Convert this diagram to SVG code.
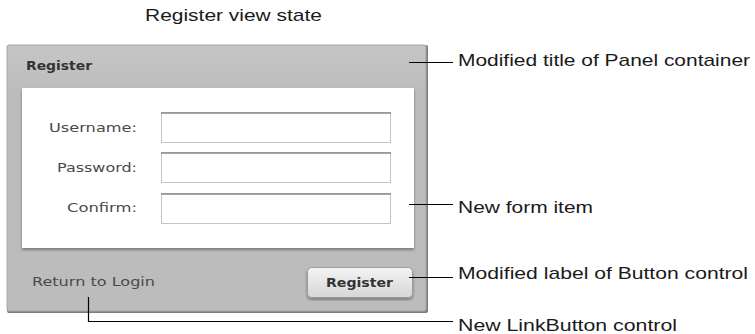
<svg xmlns="http://www.w3.org/2000/svg" width="755" height="334" viewBox="0 0 755 334">
<style>
.ann{font-family:"Liberation Sans",Arial,sans-serif;font-size:17px;fill:#1a1a1a}
.ui{font-family:"DejaVu Sans",Verdana,sans-serif;font-size:13px;fill:#4a4a4a}
.uib{font-family:"DejaVu Sans",Verdana,sans-serif;font-size:13px;font-weight:bold;fill:#333}
.inp{fill:#fff;stroke:#c4c4c4;stroke-width:1}
.inptop{stroke:#8a8a8a;stroke-width:1.5}
.conn{stroke:#000;stroke-width:1.2;fill:none}
</style>
<defs>
<linearGradient id="btn" x1="0" y1="0" x2="0" y2="1">
<stop offset="0" stop-color="#f4f4f4"/>
<stop offset="1" stop-color="#d6d6d6"/>
</linearGradient>
<linearGradient id="title" x1="0" y1="0" x2="0" y2="1">
<stop offset="0" stop-color="#c6c6c6"/>
<stop offset="1" stop-color="#bdbdbd"/>
</linearGradient>
<filter id="sh" x="-5%" y="-5%" width="110%" height="115%">
<feDropShadow dx="0" dy="2" stdDeviation="1.5" flood-color="#000" flood-opacity="0.35"/>
</filter>
</defs>
<rect width="755" height="334" fill="#fff"/>
<text class="ann" x="145" y="21" textLength="177" lengthAdjust="spacingAndGlyphs">Register view state</text>

<g id="panel">
<rect x="7" y="45" width="421" height="268" rx="2" fill="#7d7d7d"/>
<rect x="7" y="45" width="419" height="266" rx="2" fill="#bcbcbc" stroke="#a9a9a9" stroke-width="1"/>
<rect x="8" y="46" width="417" height="42" fill="url(#title)"/>
<text class="uib" x="26" y="70" textLength="66" lengthAdjust="spacingAndGlyphs">Register</text>
<rect x="22" y="88" width="392" height="160" fill="#fff" filter="url(#sh)"/>
</g>

<g id="username">
<text class="ui" x="137" y="132" text-anchor="end" textLength="88" lengthAdjust="spacingAndGlyphs">Username:</text>
<rect class="inp" x="161.5" y="112.5" width="229" height="30"/>
<line class="inptop" x1="161" y1="113" x2="391" y2="113"/>
</g>
<g id="password">
<text class="ui" x="137" y="172" text-anchor="end" textLength="80" lengthAdjust="spacingAndGlyphs">Password:</text>
<rect class="inp" x="161.5" y="152.5" width="229" height="30"/>
<line class="inptop" x1="161" y1="153" x2="391" y2="153"/>
</g>
<g id="confirm">
<text class="ui" x="137" y="212" text-anchor="end" textLength="70" lengthAdjust="spacingAndGlyphs">Confirm:</text>
<rect class="inp" x="161.5" y="193.5" width="229" height="30"/>
<line class="inptop" x1="161" y1="194" x2="391" y2="194"/>
</g>

<g id="return-link">
<text class="ui" x="32" y="286" textLength="123" lengthAdjust="spacingAndGlyphs">Return to Login</text>
</g>

<g id="register-button">
<rect x="307.5" y="267.5" width="105" height="30" rx="4" fill="url(#btn)" stroke="#9a9a9a" filter="url(#sh)"/>
<text class="uib" x="326" y="287" textLength="67" lengthAdjust="spacingAndGlyphs">Register</text>
</g>

<g id="connectors">
<line class="conn" x1="409" y1="62.5" x2="453" y2="62.5"/>
<line class="conn" x1="409" y1="204.5" x2="453" y2="204.5"/>
<line class="conn" x1="409" y1="277.5" x2="453" y2="277.5"/>
<polyline class="conn" points="88.5,297 88.5,321.5 453,321.5"/>
</g>

<g id="labels">
<text class="ann" x="458" y="66" textLength="292" lengthAdjust="spacingAndGlyphs">Modified title of Panel container</text>
<text class="ann" x="458" y="213" textLength="135" lengthAdjust="spacingAndGlyphs">New form item</text>
<text class="ann" x="458" y="279" textLength="290" lengthAdjust="spacingAndGlyphs">Modified label of Button control</text>
<text class="ann" x="458" y="331" textLength="219" lengthAdjust="spacingAndGlyphs">New LinkButton control</text>
</g>
</svg>
